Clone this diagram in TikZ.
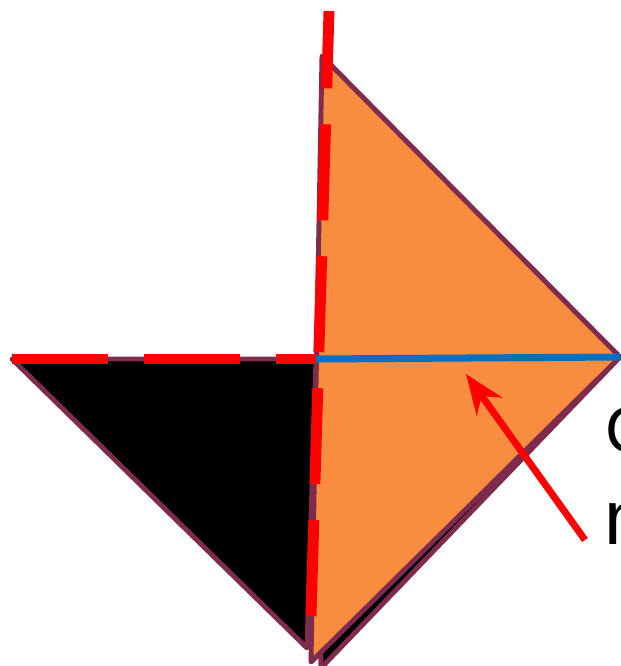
\documentclass[tikz,border=0pt]{standalone}
\usepackage{fontspec}
\setmainfont{Liberation Sans}
\usepackage{xcolor}
\usetikzlibrary{arrows.meta}
\definecolor{kiteorange}{HTML}{F98D3F}
\definecolor{edgeplum}{HTML}{7F2B4E}
\definecolor{normalblue}{HTML}{0070C0}
\definecolor{markred}{HTML}{FF0000}

\begin{document}
\begin{tikzpicture}[x=0.02cm, y=-0.02cm, line join=round,
  facet/.style={draw=edgeplum, line width=2.8pt},
  foldline/.style={draw=markred, line width=6.2pt, dash pattern=on 1.92cm off 0.72cm}]
\useasboundingbox (0,0) rectangle (620,666);
\coordinate (top) at (322,56);
\coordinate (rgt) at (620,357);
\coordinate (bot) at (311,662);
\coordinate (hinge) at (316,359);
\coordinate (lft) at (12,359);
\coordinate (foldtop) at (329,11);
\coordinate (foldbot) at (311,616);
\coordinate (tip) at (466,374);
\coordinate (tail) at (585,540);
\filldraw[facet, fill=black] (316,360) -- (rgt) -- (321,668) -- cycle;
\filldraw[facet, fill=black] (lft) -- (hinge) -- (307,648) -- cycle;
\filldraw[facet, fill=kiteorange] (top) -- (rgt) -- (bot) -- cycle;
\draw[normalblue, line width=4pt] (hinge) -- (rgt);
\draw[foldline] (lft) -- (hinge);
\draw[foldline] (foldbot) -- (foldtop);
\draw[markred, line width=4pt, -{Stealth[length=0.8cm, width=0.62cm]}] (tail) -- (tip);
\node[anchor=base west, font=\fontsize{37}{44}\selectfont, inner sep=0pt] (labc) at (605,452) {C};
\node[anchor=base west, font=\fontsize{44}{52}\selectfont, inner sep=0pt] (labn) at (604,544) {n};
\end{tikzpicture}
\end{document}
